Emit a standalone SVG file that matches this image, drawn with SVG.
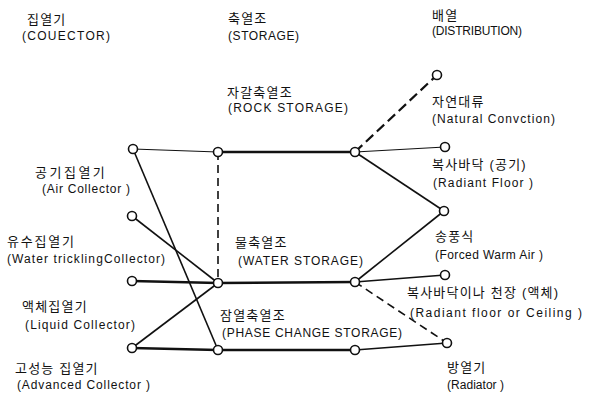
<svg xmlns="http://www.w3.org/2000/svg" width="592" height="395" viewBox="0 0 592 395">
<style>
text{font-family:"Liberation Sans","Noto Sans CJK KR",sans-serif;font-size:12px;fill:#111}
.ko{font-size:13px;letter-spacing:1.2px}
.ln{stroke:#111;fill:none;stroke-width:1.6}
.thin{stroke-width:1.2}
.thick{stroke-width:2.6}
.dash{stroke-dasharray:8 5}
.nd{fill:#fff;stroke:#111;stroke-width:1.6}
</style>
<rect width="592" height="395" fill="#fff"/>
<g id="headers">
<text class="ko" x="27" y="24">집열기</text>
<text x="22" y="40" textLength="88" lengthAdjust="spacing">(COUECTOR)</text>
<text class="ko" x="228" y="23">축열조</text>
<text x="228" y="40" textLength="71" lengthAdjust="spacing">(STORAGE)</text>
<text class="ko" x="432" y="20">배열</text>
<text x="432" y="35" textLength="90" lengthAdjust="spacing">(DISTRIBUTION)</text>
</g>
<g id="connectors">
<line class="ln thin" x1="133" y1="149" x2="218" y2="152"/>
<line class="ln" x1="133" y1="149" x2="218" y2="350"/>
<line class="ln" x1="132" y1="216" x2="218" y2="283"/>
<line class="ln thick" x1="132" y1="281" x2="218" y2="283"/>
<line class="ln" x1="132" y1="348" x2="218" y2="283"/>
<line class="ln thick" x1="132" y1="348" x2="218" y2="350"/>
<line class="ln dash" x1="218" y1="152" x2="218" y2="283"/>
<line class="ln thick" x1="218" y1="152" x2="355" y2="152"/>
<line class="ln thick" x1="218" y1="283" x2="355" y2="282"/>
<line class="ln thick" x1="218" y1="350" x2="355" y2="350"/>
<line class="ln dash" style="stroke-width:2.2;stroke-dasharray:10 5" x1="355" y1="152" x2="437" y2="75"/>
<line class="ln thin" x1="355" y1="152" x2="445" y2="147"/>
<line class="ln" x1="355" y1="152" x2="444" y2="211"/>
<line class="ln" x1="355" y1="282" x2="444" y2="211"/>
<line class="ln" x1="355" y1="282" x2="445" y2="275"/>
<line class="ln dash" x1="355" y1="282" x2="447" y2="343"/>
<line class="ln" x1="355" y1="350" x2="447" y2="343"/>
</g>
<g id="air-collector"><circle class="nd" cx="133" cy="149" r="4.5"/>
<text class="ko" x="35" y="177" style="letter-spacing:2.5px">공기집열기</text><text x="42" y="193" textLength="88" lengthAdjust="spacing">(Air Collector )</text></g>
<g id="water-trickling-collector"><circle class="nd" cx="132" cy="216" r="4.5"/>
<text class="ko" x="7" y="246" style="letter-spacing:1.8px">유수집열기</text><text x="7" y="263" textLength="158" lengthAdjust="spacing">(Water tricklingCollector)</text></g>
<g id="liquid-collector"><circle class="nd" cx="132" cy="281" r="4.5"/>
<text class="ko" x="22" y="311">액체집열기</text><text x="25" y="329" textLength="110" lengthAdjust="spacing">(Liquid Collector)</text></g>
<g id="advanced-collector"><circle class="nd" cx="132" cy="348" r="4.5"/>
<text class="ko" x="15" y="373">고성능 집열기</text><text x="17" y="389" textLength="133" lengthAdjust="spacing">(Advanced Collector )</text></g>
<g id="rock-storage"><circle class="nd" cx="218" cy="152" r="4.5"/><circle class="nd" cx="355" cy="152" r="4.5"/>
<text class="ko" x="227" y="97">자갈축열조</text><text x="228" y="112" textLength="120" lengthAdjust="spacing">(ROCK STORAGE)</text></g>
<g id="water-storage"><circle class="nd" cx="218" cy="283" r="4.5"/><circle class="nd" cx="355" cy="282" r="4.5"/>
<text class="ko" x="235" y="247">물축열조</text><text x="238" y="265" textLength="125" lengthAdjust="spacing">(WATER STORAGE)</text></g>
<g id="phase-change-storage"><circle class="nd" cx="218" cy="350" r="4.5"/><circle class="nd" cx="355" cy="350" r="4.5"/>
<text class="ko" x="220" y="320">잠열축열조</text><text x="222" y="337" textLength="180" lengthAdjust="spacing">(PHASE CHANGE STORAGE)</text></g>
<g id="natural-convection"><circle class="nd" cx="437" cy="75" r="4.5"/>
<text class="ko" x="432" y="106">자연대류</text><text x="432" y="123" textLength="123" lengthAdjust="spacing">(Natural Convction)</text></g>
<g id="radiant-floor-air"><circle class="nd" cx="445" cy="147" r="4.5"/>
<text class="ko" x="432" y="169">복사바닥 (공기)</text><text x="433" y="187" textLength="100" lengthAdjust="spacing">(Radiant Floor )</text></g>
<g id="forced-warm-air"><circle class="nd" cx="444" cy="211" r="4.5"/>
<text class="ko" x="435" y="241">송풍식</text><text x="435" y="259" textLength="108" lengthAdjust="spacing">(Forced Warm Air )</text></g>
<g id="radiant-floor-liquid"><circle class="nd" cx="445" cy="275" r="4.5"/>
<text class="ko" x="407" y="297">복사바닥이나 천장 (액체)</text><text x="410" y="317" textLength="172" lengthAdjust="spacing">(Radiant floor or Ceiling )</text></g>
<g id="radiator"><circle class="nd" cx="447" cy="343" r="4.5"/>
<text class="ko" x="447" y="372">방열기</text><text x="447" y="389" textLength="57" lengthAdjust="spacing">(Radiator )</text></g>
</svg>
